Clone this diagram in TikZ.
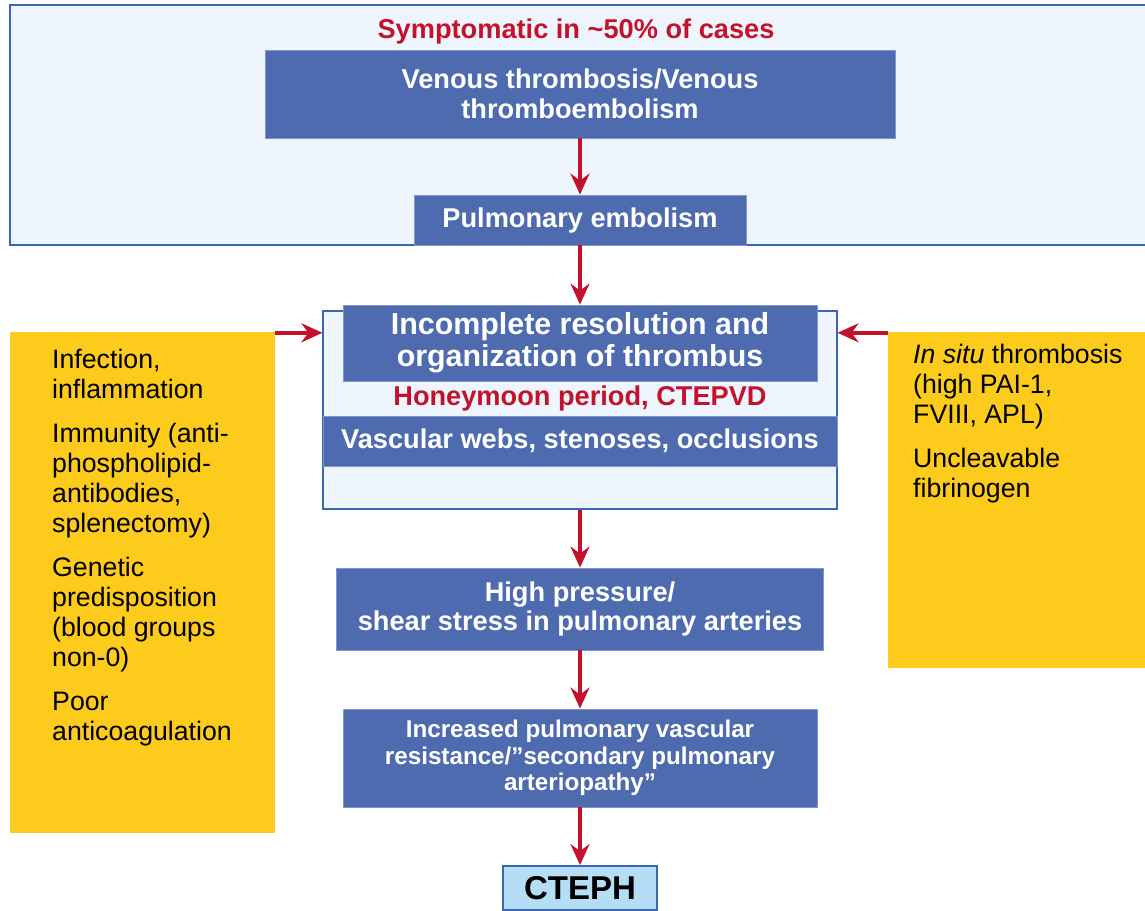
\documentclass[tikz,border=0pt]{standalone}
\usepackage{fontspec}
\setmainfont{Liberation Sans}
\usetikzlibrary{arrows.meta}
\definecolor{boxblue}{HTML}{4E6BB0}
\definecolor{boxedge}{HTML}{8096CC}
\definecolor{paleblue}{HTML}{EEF5FC}
\definecolor{frameblue}{HTML}{3A66B4}
\definecolor{alertred}{HTML}{C3122C}
\definecolor{riskyellow}{HTML}{FDCB1B}
\definecolor{ctephfill}{HTML}{B5DDF5}

\begin{document}
\begin{tikzpicture}[x=1pt,y=-1pt,
  stepbox/.style={draw=boxedge, line width=0.8pt, fill=boxblue, text=white,
    font=\bfseries\fontsize{27.2pt}{29.5pt}\selectfont, align=center, inner sep=0pt},
  framebox/.style={draw=frameblue, line width=1.2pt, fill=paleblue, inner sep=0pt},
  riskbox/.style={fill=riskyellow, inner sep=0pt},
  risktext/.style={anchor=north west, align=left, inner sep=0pt, text=black,
    font=\fontsize{26.7pt}{30pt}\selectfont},
  redlabel/.style={anchor=base, inner sep=0pt, text=alertred,
    font=\bfseries\fontsize{27.2pt}{30pt}\selectfont},
  flow/.style={draw=alertred, line width=3.6pt,
    -{Stealth[length=21pt,width=19pt,inset=7pt]}}
]
\useasboundingbox (0,0) rectangle (1145,910);
\clip (0,0) rectangle (1145,910);

% upper frame: the embolic event
\node[framebox, minimum width=1140pt, minimum height=240pt] (topframe) at (580,125) {};
\node[redlabel] (sympt) at (576,38) {Symptomatic in \textasciitilde 50\% of cases};
\node[stepbox, minimum width=630pt, minimum height=88pt] (vte) at (580,94)
  {Venous thrombosis/Venous\\thromboembolism};
\node[stepbox, minimum width=332pt, minimum height=50pt] (pe) at (580,220)
  {Pulmonary embolism};

% risk factors
\node[riskbox, minimum width=265pt, minimum height=501pt] (riskL) at (142.5,582.5) {};
\node[riskbox, minimum width=262pt, minimum height=336pt] (riskR) at (1019,500) {};
\node[risktext] (riskLtext) at (52,349)
  {Infection,\\inflammation\\[14pt]
   Immunity (anti-\\phospholipid-\\antibodies,\\splenectomy)\\[14pt]
   Genetic\\predisposition\\(blood groups\\non-0)\\[14pt]
   Poor\\anticoagulation};
\node[risktext] (riskRtext) at (913,344)
  {\textit{In situ} thrombosis\\(high PAI-1,\\FVIII, APL)\\[14pt]
   Uncleavable\\fibrinogen};

% middle frame: thrombus organisation
\node[framebox, minimum width=514pt, minimum height=198pt] (mid) at (580,410) {};
\node[stepbox, minimum width=474pt, minimum height=76pt,
  font=\bfseries\fontsize{30.4pt}{32pt}\selectfont] (organ) at (580,343)
  {Incomplete resolution and\\organization of thrombus};
\node[redlabel] (honey) at (580,405) {Honeymoon period, CTEPVD};
\node[stepbox, minimum width=514pt, minimum height=50pt] (webs) at (580,441)
  {Vascular webs, stenoses, occlusions};

% lower chain
\node[stepbox, minimum width=487pt, minimum height=82pt] (shear) at (580,609)
  {High pressure/\\shear stress in pulmonary arteries};
\node[stepbox, minimum width=474pt, minimum height=98pt,
  font=\bfseries\fontsize{24.2pt}{26.5pt}\selectfont] (pvr) at (580,758)
  {Increased pulmonary vascular\\resistance/''secondary pulmonary\\arteriopathy''};
\node[draw=frameblue, line width=1.8pt, fill=ctephfill, minimum width=154pt,
  minimum height=44pt, inner sep=0pt, text=black,
  font=\bfseries\fontsize{33pt}{36pt}\selectfont] (cteph) at (580,888) {CTEPH};

% arrows
\draw[flow] (vte.south) -- (pe.north);
\draw[flow] (pe.south) -- (organ.north);
\draw[flow] ([yshift=-1pt]riskL.north east) -- ([yshift=-1pt]riskL.north east -| mid.west);
\draw[flow] ([yshift=-1pt]riskR.north west) -- ([yshift=-1pt]riskR.north west -| mid.east);
\draw[flow] (mid.south) -- (shear.north);
\draw[flow] (shear.south) -- (pvr.north);
\draw[flow] (pvr.south) -- (cteph.north);
\end{tikzpicture}
\end{document}
